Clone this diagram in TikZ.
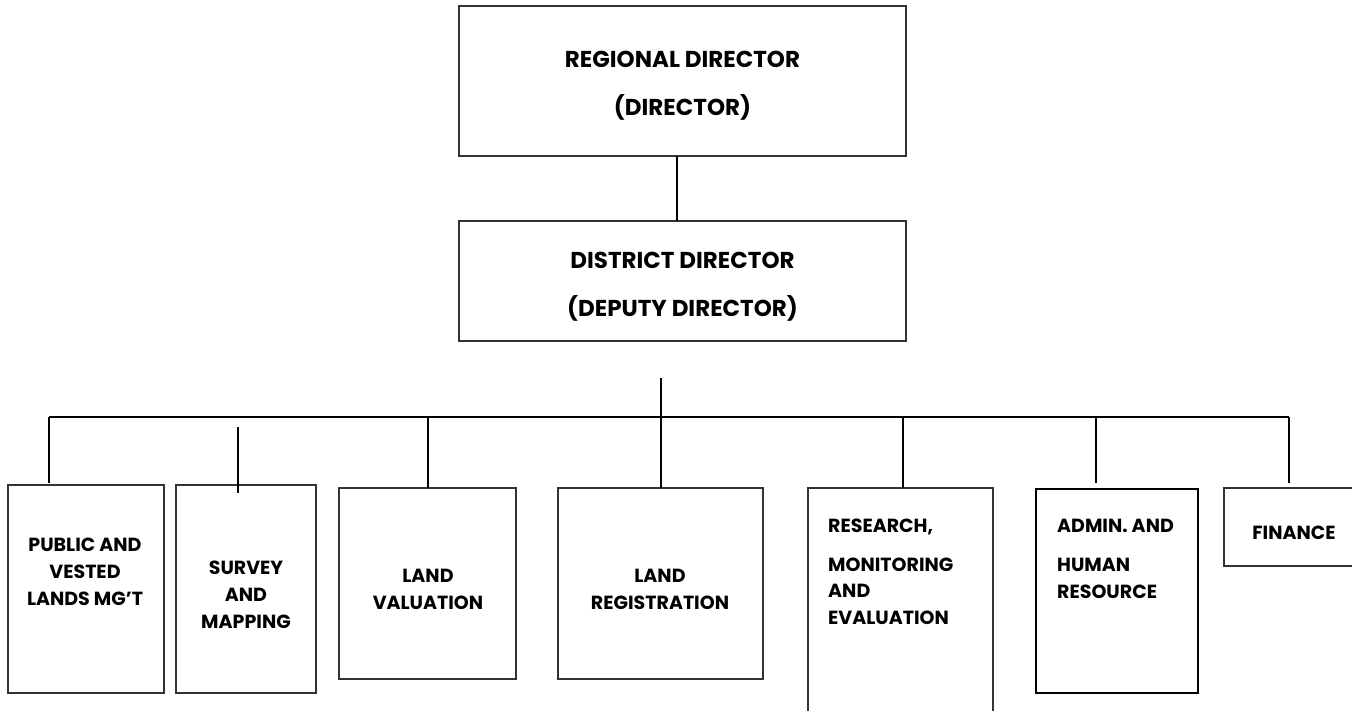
\documentclass[tikz,border=0pt]{standalone}
\usepackage{fontspec}
\setmainfont{Poppins}
\begin{document}
\begin{tikzpicture}[x=1pt,y=-1pt,
  box/.style={draw=black!80,line width=1.1pt,inner sep=0pt,outer sep=0pt,anchor=north west},
  conn/.style={draw=black,line width=1.6pt},
  lbl/.style={font=\bfseries\fontsize{19}{27}\selectfont,align=center,inner sep=0pt},
  lbll/.style={font=\bfseries\fontsize{19}{26.5}\selectfont,align=left,inner sep=0pt,anchor=base west},
  big/.style={font=\bfseries\fontsize{23}{48}\selectfont,align=center,inner sep=0pt}]
\useasboundingbox (0,0) rectangle (1352,710);
% boxes
\node[box,minimum width=447pt,minimum height=150pt] (top) at (459,6) {};
\node[box,minimum width=447pt,minimum height=120pt] (dist) at (459,221) {};
\node[box,minimum width=156pt,minimum height=208pt] (pub) at (8,485) {};
\node[box,minimum width=140pt,minimum height=208pt] (sur) at (176,485) {};
\node[box,minimum width=177pt,minimum height=191pt] (val) at (339,488) {};
\node[box,minimum width=205pt,minimum height=191pt] (reg) at (558,488) {};
\node[box,minimum width=185pt,minimum height=260pt] (res) at (808,488) {};
\node[box,line width=2pt,draw=black,minimum width=162pt,minimum height=204pt] (adm) at (1036,489) {};
\node[box,minimum width=160pt,minimum height=78pt] (fin) at (1224,488) {};
% texts
\node[big] (ttop) at (682.5,86) {REGIONAL DIRECTOR\\(DIRECTOR)};
\node[big] (tdist) at (682.5,286.5) {DISTRICT DIRECTOR\\(DEPUTY DIRECTOR)};
\node[lbl] (tpub) at (85,572) {PUBLIC AND\\VESTED\\LANDS MG’T};
\node[lbl] (tsur) at (246,595) {SURVEY\\AND\\MAPPING};
\node[lbl] (tval) at (428,589) {LAND\\VALUATION};
\node[lbl] (treg) at (660,589) {LAND\\REGISTRATION};
\node[lbll] (tres) at (828,624) {RESEARCH,\\[12.5pt]MONITORING\\AND\\EVALUATION};
\node[lbll] (tadm) at (1057,598) {ADMIN. AND\\[13pt]HUMAN\\RESOURCE};
\node[lbl] (tfin) at (1294,533) {FINANCE};
% connectors
\coordinate (c1) at (677,0);
\draw[conn,line width=1.3pt] (c1 |- top.south) -- (c1 |- dist.north);
\coordinate (t0) at (661,378);
\draw[conn] (t0) -- (t0 |- reg.north);
\coordinate (bl) at (49,417);
\coordinate (br) at (1289,417);
\draw[conn] (bl) -- (br);
\draw[conn,shorten >=2pt] (bl) -- (bl |- pub.north);
\coordinate (s0) at (238,427);
\draw[conn] (s0) -- ([yshift=-8pt]s0 |- sur.north);
\coordinate (v0) at (428,417);
\draw[conn] (v0) -- (v0 |- val.north);
\coordinate (r0) at (903,417);
\draw[conn] (r0) -- (r0 |- res.north);
\coordinate (a0) at (1096,417);
\draw[conn,line width=1.3pt,shorten >=6pt] (a0) -- (a0 |- adm.north);
\draw[conn,line width=1.3pt,shorten >=5pt] (br) -- (br |- fin.north);
\end{tikzpicture}
\end{document}
